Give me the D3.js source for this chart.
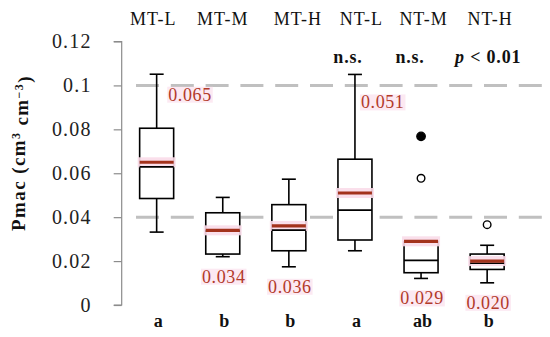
<!DOCTYPE html>
<html>
<head>
<meta charset="utf-8">
<script src="https://cdn.jsdelivr.net/npm/d3@7"></script>
<style>
  html, body { margin: 0; padding: 0; background: #ffffff; }
  svg { display: block; }
  text { font-family: "Liberation Serif", "DejaVu Serif", serif; }
</style>
</head>
<body>
<svg id="chart" width="550" height="337"></svg>
<script>
// ---------------- data ----------------
const categories   = ["MT-L", "MT-M", "MT-H", "NT-L", "NT-M", "NT-H"];
const whiskerLow   = [0.0332, 0.0220, 0.0174, 0.0247, 0.0121, 0.0101];
const quartile1    = [0.0485, 0.0232, 0.0247, 0.0296, 0.0147, 0.0162];
const medians      = [0.0629, 0.0337, 0.0341, 0.0432, 0.0203, 0.0190];
const quartile3    = [0.0805, 0.0420, 0.0457, 0.0664, 0.0288, 0.0232];
const whiskerHigh  = [0.1051, 0.0490, 0.0573, 0.1050, 0.0288, 0.0272];
const means        = [0.065, 0.034, 0.036, 0.051, 0.029, 0.020];
const groupLetters = ["a", "b", "b", "a", "ab", "b"];
const significance = ["", "", "", "n.s.", "n.s.", "p < 0.01"];
const outlierCats  = ["NT-M", "NT-M", "NT-H"];
const outlierVals  = [0.0768, 0.0577, 0.0366];
const outlierFill  = [true, false, false];
const referenceLines = [0.04, 0.10];
const yTicks       = [0, 0.02, 0.04, 0.06, 0.08, 0.10, 0.12];
const yTickLabels  = ["0", "0.02", "0.04", "0.06", "0.08", "0.1", "0.12"];

// ---------------- layout ----------------
const svg = d3.select("#chart");
const y = d3.scaleLinear().domain([0, 0.12]).range([305, 41.5]);
const x = d3.scalePoint().domain(categories).range([123.6, 520.2]).padding(0.5);

const boxW = 34, capW = 14;
const meanColor = "#a3321c";
const labelColor = "#b23a2a";
const pink = "#fadbe9";

// y axis
const axisG = svg.append("g").attr("transform", "translate(121.7,0)");
axisG.call(d3.axisLeft(y).tickValues(yTicks).tickFormat((d, i) => yTickLabels[i]).tickSize(8).tickPadding(22));
axisG.select(".domain").attr("stroke", "#8c8c8c").attr("stroke-width", 1.2).attr("d", `M-8,${y(0)}H0V${y(0.12)}H-8`);
axisG.selectAll(".tick line").attr("stroke", "#8c8c8c").attr("stroke-width", 1.2);
axisG.selectAll(".tick text")
  .attr("fill", "#222")
  .style("font-family", "'Liberation Serif', serif")
  .style("font-size", "20px")
  .style("letter-spacing", "1.2px")
  .attr("dy", "0.3em");

// y label
const yl = svg.append("text")
  .attr("transform", "translate(25,153) rotate(-90)")
  .attr("text-anchor", "middle")
  .style("font-size", "19px")
  .style("font-weight", "bold")
  .style("letter-spacing", "1.4px")
  .attr("fill", "#111");
yl.append("tspan").text("Pmac (cm");
yl.append("tspan").text("3").attr("dy", "-0.45em").style("font-size", "12px");
yl.append("tspan").text(" cm").attr("dy", "0.45em");
yl.append("tspan").text("\u22123").attr("dy", "-0.45em").style("font-size", "12px");
yl.append("tspan").text(")").attr("dy", "0.45em");

// reference dashed lines
svg.selectAll("line.ref").data(referenceLines).join("line")
  .attr("class", "ref")
  .attr("x1", 136).attr("x2", 542)
  .attr("y1", d => y(d)).attr("y2", d => y(d))
  .attr("stroke", "#c0c0c0").attr("stroke-width", 3)
  .attr("stroke-dasharray", "23 11.8");

// boxes
const rows = categories.map((c, i) => ({
  c, lo: whiskerLow[i], q1: quartile1[i], med: medians[i], q3: quartile3[i], hi: whiskerHigh[i], mean: means[i], i
}));

const g = svg.selectAll("g.box").data(rows).join("g").attr("class", "box")
  .attr("transform", d => `translate(${x(d.c)},0)`);

// whiskers
g.append("line").attr("x1", 0).attr("x2", 0).attr("y1", d => y(d.hi)).attr("y2", d => y(d.q3))
  .attr("stroke", "#000").attr("stroke-width", 1.6);
g.append("line").attr("x1", 0).attr("x2", 0).attr("y1", d => y(d.q1)).attr("y2", d => y(d.lo))
  .attr("stroke", "#000").attr("stroke-width", 1.6);
g.filter(d => d.hi > d.q3).append("line").attr("x1", -capW / 2).attr("x2", capW / 2)
  .attr("y1", d => y(d.hi)).attr("y2", d => y(d.hi)).attr("stroke", "#000").attr("stroke-width", 1.6);
g.append("line").attr("x1", -capW / 2).attr("x2", capW / 2)
  .attr("y1", d => y(d.lo)).attr("y2", d => y(d.lo)).attr("stroke", "#000").attr("stroke-width", 1.6);

// box body
g.append("rect").attr("x", -boxW / 2).attr("width", boxW)
  .attr("y", d => y(d.q3)).attr("height", d => y(d.q1) - y(d.q3))
  .attr("fill", "#fff").attr("stroke", "#000").attr("stroke-width", 1.6);

// pink highlight behind mean
g.append("rect").attr("x", -boxW / 2 - 2).attr("width", boxW + 4)
  .attr("y", d => y(d.mean) - 5).attr("height", 10)
  .attr("fill", pink).attr("opacity", 0.9);

// median
g.append("line").attr("x1", -boxW / 2).attr("x2", boxW / 2)
  .attr("y1", d => y(d.med)).attr("y2", d => y(d.med))
  .attr("stroke", "#000").attr("stroke-width", 1.6);

// mean line
g.append("line").attr("x1", -boxW / 2).attr("x2", boxW / 2)
  .attr("y1", d => y(d.mean)).attr("y2", d => y(d.mean))
  .attr("stroke", meanColor).attr("stroke-width", 3.2);

// outliers
svg.selectAll("circle.out").data(outlierVals.map((v, i) => ({ v, c: outlierCats[i], f: outlierFill[i] })))
  .join("circle").attr("class", "out")
  .attr("cx", d => x(d.c)).attr("cy", d => y(d.v))
  .attr("r", d => d.f ? 4.2 : 3.8)
  .attr("fill", d => d.f ? "#000" : "#fff")
  .attr("stroke", "#000").attr("stroke-width", 1.4);

// mean labels
const fmt = d3.format(".3f");
const labelLayout = rows.map(d => {
  if (d.i === 0) return { x: x(d.c) + 11.6, y: y(0.1) + 15.3, anchor: "start" };
  if (d.i === 3) return { x: x(d.c) + 6, y: y(0.1) + 23, anchor: "start" };
  return { x: x(d.c) + 1, y: y(d.lo) + 26, anchor: "middle" };
});
const lg = svg.append("g");
rows.forEach((d, i) => {
  const L = labelLayout[i];
  const t = lg.append("text")
    .attr("x", L.x).attr("y", L.y)
    .attr("text-anchor", L.anchor)
    .style("font-size", "18px")
    .style("letter-spacing", "0.6px")
    .attr("fill", labelColor)
    .text(fmt(d.mean));
  const bb = t.node().getBBox();
  lg.insert("rect", () => t.node())
    .attr("x", bb.x - 1).attr("y", bb.y + 2).attr("width", bb.width + 2).attr("height", bb.height - 4)
    .attr("fill", pink).attr("opacity", 0.6);
});

// category labels on top
const topOffsets = [-3.4, 0, 9, 6.5, 2.5, 3];
svg.selectAll("text.cat").data(categories).join("text").attr("class", "cat")
  .attr("x", (d, i) => x(d) + topOffsets[i]).attr("y", 24.5)
  .attr("text-anchor", "middle")
  .style("font-size", "18px").style("letter-spacing", "1px")
  .attr("fill", "#111")
  .text(d => d);

// significance labels
const sigOffsets = [0, 0, 0, -7, -11, 1];
categories.forEach((c, i) => {
  const s = significance[i];
  if (!s) return;
  const t = svg.append("text")
    .attr("x", x(c) + sigOffsets[i]).attr("y", 63.3)
    .attr("text-anchor", "middle")
    .style("font-size", "18px").style("font-weight", "bold").style("letter-spacing", "0.8px")
    .attr("fill", "#111");
  if (s.startsWith("p")) {
    t.append("tspan").text("p").style("font-style", "italic");
    t.append("tspan").text(s.slice(1));
  } else {
    t.text(s);
  }
});

// group letters at bottom
svg.selectAll("text.grp").data(groupLetters).join("text").attr("class", "grp")
  .attr("x", (d, i) => x(categories[i]) + 1.5).attr("y", 327)
  .attr("text-anchor", "middle")
  .style("font-size", "18px").style("font-weight", "bold")
  .attr("fill", "#111")
  .text(d => d);
</script>
</body>
</html>
